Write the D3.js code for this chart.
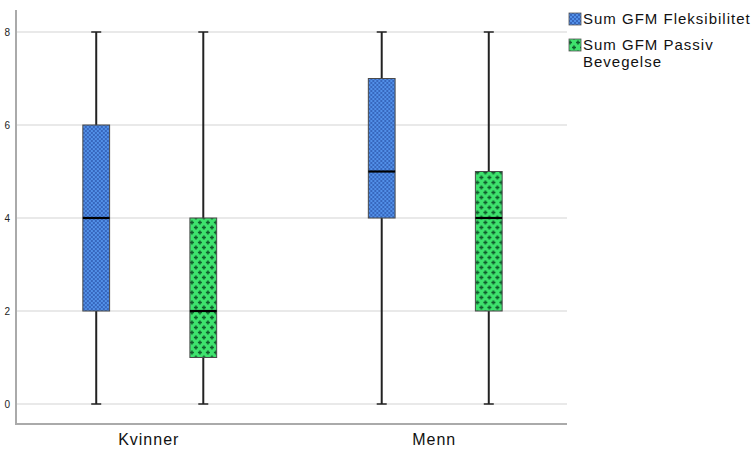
<!DOCTYPE html>
<html>
<head>
<meta charset="utf-8">
<script src="https://cdn.jsdelivr.net/npm/d3@7"></script>
<style>
  html, body { margin: 0; padding: 0; background: #fff; }
  svg { display: block; font-family: "Liberation Sans", Arial, sans-serif; }
</style>
</head>
<body>
<svg id="chart" width="756" height="450"></svg>
<script>
// ---- data ----
const groups = ['Kvinner', 'Menn'];
const series = ['Sum GFM Fleksibilitet', 'Sum GFM Passiv Bevegelse'];
// five-number summaries: [min, q1, median, q3, max], one per group
const fleksibilitet = [[0, 2, 4, 6, 8], [0, 4, 5, 7, 8]];
const passiv = [[0, 1, 2, 4, 8], [0, 2, 4, 5, 8]];
const yTicks = [0, 2, 4, 6, 8];

const svg = d3.select('#chart');
const X0 = 16, X1 = 567, YTOP = 10, YBOT = 424;

// patterns
const defs = svg.append('defs');
const pBlue = defs.append('pattern').attr('id', 'pat-blue')
  .attr('patternUnits', 'userSpaceOnUse').attr('width', 4).attr('height', 4);
pBlue.append('rect').attr('width', 4).attr('height', 4).attr('fill', '#5290e8');
pBlue.append('rect').attr('width', 2).attr('height', 2).attr('fill', '#3767bd');
pBlue.append('rect').attr('x', 2).attr('y', 2).attr('width', 2).attr('height', 2).attr('fill', '#3767bd');

const pGreen = defs.append('pattern').attr('id', 'pat-green')
  .attr('patternUnits', 'userSpaceOnUse').attr('width', 8).attr('height', 10);
pGreen.append('rect').attr('width', 8).attr('height', 10).attr('fill', '#3ee26d');
[[2, 2.5], [6, 7.5]].forEach(([cx, cy]) => {
  pGreen.append('rect').attr('x', cx - 2).attr('y', cy - 0.75).attr('width', 4).attr('height', 1.5).attr('fill', '#0f5c2c');
  pGreen.append('rect').attr('x', cx - 0.75).attr('y', cy - 2).attr('width', 1.5).attr('height', 4).attr('fill', '#0f5c2c');
});

const fills = ['url(#pat-blue)', 'url(#pat-green)'];

// scales
const x = d3.scaleBand().domain(groups).range([X0, X1]).paddingInner(0.07).paddingOuter(0);
const xs = d3.scaleBand().domain(series).range([0, x.bandwidth()]).paddingInner(0.75).paddingOuter(0.615);
const y = d3.scaleLinear().domain([0, 8]).range([404, 32]);

// gridlines
svg.append('g').selectAll('line').data(yTicks).join('line')
  .attr('x1', X0).attr('x2', X1)
  .attr('y1', d => y(d)).attr('y2', d => y(d))
  .attr('stroke', '#d4d4d4').attr('stroke-width', 1.2);

// y axis
const yAxis = svg.append('g').attr('transform', `translate(${X0},0)`)
  .call(d3.axisLeft(y).tickValues(yTicks).tickSize(0).tickPadding(6));
yAxis.select('.domain').remove();
yAxis.selectAll('text').attr('font-size', 10).attr('fill', '#222')
  .attr('font-family', '"Liberation Sans", Arial, sans-serif');

svg.append('line').attr('x1', X0).attr('x2', X0).attr('y1', YTOP).attr('y2', YBOT)
  .attr('stroke', '#aaaaaa').attr('stroke-width', 2);
svg.append('line').attr('x1', X0 - 1).attr('x2', X1).attr('y1', YBOT).attr('y2', YBOT)
  .attr('stroke', '#aaaaaa').attr('stroke-width', 2);

// x axis labels
const xAxis = svg.append('g').attr('transform', `translate(0,${YBOT})`)
  .call(d3.axisBottom(x).tickSize(0).tickPadding(10));
xAxis.select('.domain').remove();
xAxis.selectAll('text').attr('font-size', 16).attr('letter-spacing', '1px')
  .attr('fill', '#111').attr('font-family', '"Liberation Sans", Arial, sans-serif');

// boxes
const rows = [];
groups.forEach((g, gi) => {
  [fleksibilitet, passiv].forEach((arr, si) => {
    const [mn, q1, md, q3, mx] = arr[gi];
    rows.push({ g, s: series[si], si, mn, q1, md, q3, mx });
  });
});

const bw = xs.bandwidth();
const box = svg.append('g').selectAll('g').data(rows).join('g')
  .attr('transform', d => `translate(${x(d.g) + xs(d.s) + 1},0)`);

const cap = 5;
box.append('line').attr('x1', bw / 2).attr('x2', bw / 2)
  .attr('y1', d => y(d.mx)).attr('y2', d => y(d.q3)).attr('stroke', '#222').attr('stroke-width', 2);
box.append('line').attr('x1', bw / 2).attr('x2', bw / 2)
  .attr('y1', d => y(d.q1)).attr('y2', d => y(d.mn)).attr('stroke', '#222').attr('stroke-width', 2);
box.append('line').attr('x1', bw / 2 - cap).attr('x2', bw / 2 + cap)
  .attr('y1', d => y(d.mx)).attr('y2', d => y(d.mx)).attr('stroke', '#222').attr('stroke-width', 1.5);
box.append('line').attr('x1', bw / 2 - cap).attr('x2', bw / 2 + cap)
  .attr('y1', d => y(d.mn)).attr('y2', d => y(d.mn)).attr('stroke', '#222').attr('stroke-width', 1.5);
box.append('rect').attr('x', 0).attr('width', bw)
  .attr('y', d => y(d.q3)).attr('height', d => y(d.q1) - y(d.q3))
  .attr('fill', d => fills[d.si]).attr('stroke', '#4a4a4a').attr('stroke-width', 1);
box.append('line').attr('x1', 0).attr('x2', bw)
  .attr('y1', d => y(d.md)).attr('y2', d => y(d.md)).attr('stroke', '#000').attr('stroke-width', 2.2);

// legend
const legend = svg.append('g').attr('fill', '#111');
const legendLines = [['Sum GFM Fleksibilitet'], ['Sum GFM Passiv', 'Bevegelse']];
const legendTop = [13, 39];
legendLines.forEach((lines, i) => {
  legend.append('rect').attr('x', 569).attr('y', legendTop[i]).attr('width', 12).attr('height', 12)
    .attr('fill', fills[i]).attr('stroke', '#555').attr('stroke-width', 0.8);
  lines.forEach((t, j) => {
    legend.append('text').attr('x', 583).attr('y', legendTop[i] + 11 + j * 16.5)
      .attr('font-size', 15).attr('letter-spacing', '1px').text(t);
  });
});
</script>
</body>
</html>
